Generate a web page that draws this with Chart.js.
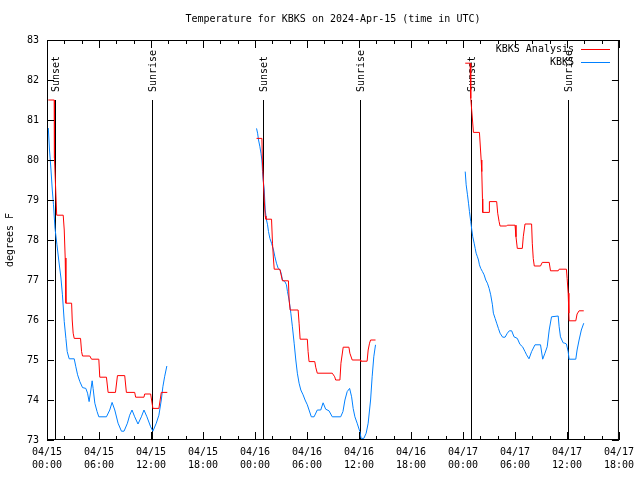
<!DOCTYPE html>
<html lang="en">
<head>
    <meta charset="UTF-8">
    <title>Temperature for KBKS</title>
    <script src="https://cdn.jsdelivr.net/npm/chart.js"></script>
    <style>
        body { margin: 0; background: #fff; }
    </style>
</head>
<body>
    <canvas id="myChart" width="640" height="480"></canvas>
    <script>
        // hours since 04/15 00:00 UTC, temperature in F
        const analysis15 = [[0.15,81.5],[0.84,81.5],[0.86,80.05],[1.12,78.62],[1.87,78.62],[1.99,78.25],[2.1,77.55],[2.18,76.42],[2.84,76.42],[2.91,76.0],[3.02,75.67],[3.14,75.54],[3.87,75.54],[3.99,75.21],[4.1,75.1],[4.94,75.1],[5.14,75.02],[5.98,75.02],[6.09,74.57],[6.86,74.57],[7.05,74.19],[7.9,74.19],[8.13,74.61],[8.97,74.61],[9.16,74.19],[10.12,74.19],[10.23,74.07],[11.19,74.07],[11.27,74.15],[11.96,74.15],[12.22,73.79],[12.91,73.79],[13.19,74.19],[13.88,74.19]];
        const analysis16 = [[24.18,80.54],[24.8,80.54],[24.85,80.0],[25.07,79.0],[25.18,78.6],[25.26,78.52],[25.91,78.52],[26.02,77.92],[26.14,77.5],[26.22,77.27],[26.87,77.27],[27.17,76.98],[27.86,76.98],[27.94,76.5],[28.06,76.25],[28.98,76.25],[29.09,75.92],[29.21,75.52],[30.04,75.52],[30.13,75.21],[30.24,74.96],[30.9,74.96],[31.01,74.82],[31.19,74.67],[32.92,74.67],[33.2,74.58],[33.31,74.5],[33.8,74.5],[33.92,74.92],[34.18,75.32],[34.84,75.32],[34.95,75.17],[35.22,75.0],[36.18,75.0],[36.2,74.97],[36.94,74.97],[37.06,75.25],[37.22,75.42],[37.34,75.5],[37.91,75.5]];
        const analysis17 = [[48.26,82.42],[48.83,82.42],[48.9,81.54],[49.1,81.0],[49.21,80.69],[49.9,80.69],[50.1,80.0],[50.17,79.71],[50.25,79.03],[50.28,78.69],[51.02,78.69],[51.05,78.96],[51.89,78.96],[52.01,78.67],[52.17,78.46],[52.28,78.35],[53.04,78.35],[53.12,78.37],[54.01,78.37],[54.12,78.08],[54.27,77.79],[54.85,77.79],[54.96,78.08],[55.16,78.4],[55.92,78.4],[56.0,77.92],[56.11,77.54],[56.23,77.35],[56.95,77.35],[57.15,77.44],[57.95,77.44],[58.1,77.23],[58.99,77.23],[59.1,77.27],[59.94,77.27],[60.02,77.04],[60.14,76.67],[60.22,76.17],[60.25,75.98],[61.02,75.98],[61.17,76.15],[61.4,76.23],[61.94,76.23]];

        const obs15 = [[0.15,80.8],[0.29,80.25],[0.46,79.75],[0.61,79.25],[0.75,78.88],[0.92,78.3],[1.15,77.88],[1.38,77.45],[1.61,77.05],[1.78,76.63],[1.99,75.96],[2.18,75.54],[2.33,75.21],[2.56,75.03],[3.14,75.03],[3.33,74.83],[3.53,74.63],[3.79,74.46],[4.1,74.31],[4.48,74.29],[4.68,74.17],[4.86,73.96],[5.06,74.25],[5.21,74.48],[5.32,74.29],[5.52,73.92],[5.78,73.71],[5.98,73.58],[6.86,73.58],[7.24,73.75],[7.51,73.94],[7.82,73.75],[8.2,73.42],[8.59,73.22],[8.89,73.22],[9.28,73.42],[9.54,73.62],[9.81,73.75],[10.12,73.58],[10.5,73.4],[10.89,73.58],[11.19,73.75],[11.53,73.58],[11.96,73.33],[12.22,73.22],[12.61,73.42],[12.91,73.62],[13.19,74.0],[13.37,74.33],[13.57,74.58],[13.83,74.85]];
        const obs16 = [[24.18,80.79],[24.3,80.67],[24.41,80.5],[24.57,80.33],[24.69,80.17],[24.8,80.0],[24.87,79.71],[24.95,79.5],[25.07,79.25],[25.18,78.75],[25.33,78.5],[25.45,78.38],[25.56,78.21],[25.72,78.04],[25.91,77.92],[26.14,77.75],[26.3,77.58],[26.48,77.42],[26.68,77.29],[26.91,77.25],[27.06,77.13],[27.17,77.0],[27.45,76.96],[27.63,76.88],[27.75,76.71],[27.94,76.5],[28.14,76.17],[28.32,75.83],[28.52,75.42],[28.71,75.0],[28.89,74.67],[29.09,74.42],[29.29,74.25],[29.55,74.13],[29.78,74.0],[30.04,73.88],[30.24,73.75],[30.5,73.58],[30.82,73.58],[31.19,73.75],[31.59,73.75],[31.86,73.93],[32.16,73.77],[32.54,73.73],[32.92,73.58],[33.89,73.58],[34.15,73.71],[34.38,74.0],[34.64,74.21],[34.92,74.29],[35.15,74.08],[35.33,73.79],[35.53,73.58],[35.79,73.42],[36.1,73.21],[36.25,73.04],[36.56,73.04],[36.83,73.17],[37.06,73.42],[37.34,74.0],[37.52,74.58],[37.71,75.08],[37.91,75.38]];
        const obs17 = [[48.26,79.71],[48.37,79.38],[48.52,79.13],[48.64,78.92],[48.75,78.71],[48.9,78.46],[49.02,78.25],[49.13,78.08],[49.29,77.92],[49.41,77.79],[49.52,77.67],[49.67,77.58],[49.79,77.5],[49.9,77.38],[50.05,77.29],[50.25,77.21],[50.44,77.13],[50.63,77.0],[50.82,76.92],[51.02,76.79],[51.2,76.63],[51.4,76.38],[51.51,76.17],[51.71,76.04],[51.89,75.92],[52.09,75.79],[52.28,75.67],[52.58,75.57],[52.86,75.57],[53.12,75.67],[53.35,75.73],[53.62,75.73],[53.89,75.58],[54.27,75.54],[54.58,75.39],[54.88,75.33],[55.16,75.21],[55.34,75.13],[55.62,75.03],[55.92,75.21],[56.31,75.38],[56.95,75.38],[57.2,75.02],[57.46,75.17],[57.72,75.33],[57.95,75.75],[58.22,76.08],[58.99,76.1],[59.1,75.83],[59.25,75.58],[59.56,75.43],[59.76,75.42],[59.94,75.4],[60.14,75.21],[60.25,75.02],[61.02,75.02],[61.17,75.25],[61.4,75.5],[61.66,75.75],[61.94,75.92]];

        const sunHours = [0.88, 12.15, 24.88, 36.13, 48.9, 60.13];
        const sunLabels = ['Sunset', 'Sunrise', 'Sunset', 'Sunrise', 'Sunset', 'Sunrise'];

        const xTickLabels = [['04/15','00:00'],['04/15','06:00'],['04/15','12:00'],['04/15','18:00'],
                             ['04/16','00:00'],['04/16','06:00'],['04/16','12:00'],['04/16','18:00'],
                             ['04/17','00:00'],['04/17','06:00'],['04/17','12:00'],['04/17','18:00']];
        const yMin = 73, yMax = 83;
        const xMin = 0, xMax = 66;
        const titleText = 'Temperature for KBKS on 2024-Apr-15 (time in UTC)';

        const FONT = "'DejaVu Sans Mono', 'Liberation Mono', monospace";
        const RED = '#ff0000';
        const BLUE = 'rgb(0,128,255)';

        // join segments, null breaks the line between days
        function joinSegments(segs) {
            const out = [];
            segs.forEach((seg, i) => {
                if (i > 0) out.push({ x: seg[0][0] - 1, y: null });
                seg.forEach(p => out.push({ x: p[0], y: p[1] }));
            });
            return out;
        }

        // gnuplot style frame, inward ticks, sun lines, title and legend
        const gnuplotBits = {
            id: 'gnuplotBits',
            beforeDatasetsDraw(chart) {
                const { ctx, chartArea: a, scales: { x } } = chart;
                ctx.save();
                ctx.strokeStyle = '#000';
                ctx.fillStyle = '#000';
                ctx.lineWidth = 1;
                ctx.font = '10px ' + FONT;
                sunHours.forEach((h, i) => {
                    const px = Math.round(x.getPixelForValue(h)) + 0.5;
                    ctx.beginPath();
                    ctx.moveTo(px, 100);
                    ctx.lineTo(px, a.bottom);
                    ctx.stroke();
                    ctx.save();
                    ctx.translate(px + 1, 92);
                    ctx.rotate(-Math.PI / 2);
                    ctx.textAlign = 'left';
                    ctx.textBaseline = 'middle';
                    ctx.fillText(sunLabels[i], 0, 0);
                    ctx.restore();
                });
                ctx.restore();
            },
            afterDraw(chart) {
                const { ctx, chartArea: a, scales: { x, y } } = chart;
                ctx.save();
                ctx.strokeStyle = '#000';
                ctx.lineWidth = 1;
                ctx.strokeRect(a.left + 0.5, a.top + 0.5, a.right - a.left - 1, a.bottom - a.top - 1);

                ctx.beginPath();
                for (let h = xMin; h <= xMax; h += 2) {
                    const px = Math.round(x.getPixelForValue(h)) + 0.5;
                    const len = h % 6 === 0 ? 8 : 4;
                    ctx.moveTo(px, a.bottom);
                    ctx.lineTo(px, a.bottom - len);
                    ctx.moveTo(px, a.top);
                    ctx.lineTo(px, a.top + len);
                }
                for (let t = yMin; t <= yMax; t++) {
                    const py = Math.round(y.getPixelForValue(t)) + 0.5;
                    ctx.moveTo(a.left, py);
                    ctx.lineTo(a.left + 7, py);
                    ctx.moveTo(a.right, py);
                    ctx.lineTo(a.right - 7, py);
                }
                ctx.stroke();

                ctx.font = '10px ' + FONT;
                ctx.fillStyle = '#000';
                ctx.textBaseline = 'middle';
                ctx.textAlign = 'center';
                ctx.fillText(titleText, (a.left + a.right) / 2, 19);

                // legend
                ctx.textAlign = 'right';
                chart.data.datasets.forEach((ds, i) => {
                    const ly = 49.5 + i * 13;
                    ctx.fillText(ds.label, 574, ly);
                    ctx.strokeStyle = ds.borderColor;
                    ctx.beginPath();
                    ctx.moveTo(581, Math.round(ly) - 0.5);
                    ctx.lineTo(610, Math.round(ly) - 0.5);
                    ctx.stroke();
                });
                ctx.restore();
            }
        };

        const ctx = document.getElementById('myChart').getContext('2d');
        const myChart = new Chart(ctx, {
            type: 'line',
            data: {
                datasets: [{
                    label: 'KBKS Analysis',
                    data: joinSegments([analysis15, analysis16, analysis17]),
                    borderColor: RED,
                    backgroundColor: RED,
                    borderWidth: 1,
                    pointRadius: 0,
                    spanGaps: false
                }, {
                    label: 'KBKS',
                    data: joinSegments([obs15, obs16, obs17]),
                    borderColor: BLUE,
                    backgroundColor: BLUE,
                    borderWidth: 1,
                    pointRadius: 0,
                    spanGaps: false
                }]
            },
            options: {
                responsive: false,
                animation: false,
                layout: { padding: { left: 0, right: 19, top: 40, bottom: 0 } },
                plugins: {
                    legend: { display: false },
                    tooltip: { enabled: false },
                    title: { display: false }
                },
                scales: {
                    x: {
                        type: 'linear',
                        min: xMin,
                        max: xMax,
                        afterFit: s => { s.height = 40; },
                        grid: { display: false, drawTicks: false },
                        border: { display: false },
                        ticks: {
                            stepSize: 6,
                            autoSkip: false,
                            maxRotation: 0,
                            padding: 6,
                            color: '#000',
                            font: { family: FONT, size: 10, lineHeight: 1.3 },
                            callback: (v, i) => xTickLabels[i]
                        }
                    },
                    y: {
                        min: yMin,
                        max: yMax,
                        afterFit: s => { s.width = 47; },
                        grid: { display: false, drawTicks: false },
                        border: { display: false },
                        title: {
                            display: true,
                            text: 'degrees F',
                            color: '#000',
                            font: { family: FONT, size: 10 },
                            padding: { top: 4, bottom: 0 }
                        },
                        ticks: {
                            stepSize: 1,
                            padding: 8,
                            color: '#000',
                            font: { family: FONT, size: 10 }
                        }
                    }
                }
            },
            plugins: [gnuplotBits]
        });
    </script>
</body>
</html>
